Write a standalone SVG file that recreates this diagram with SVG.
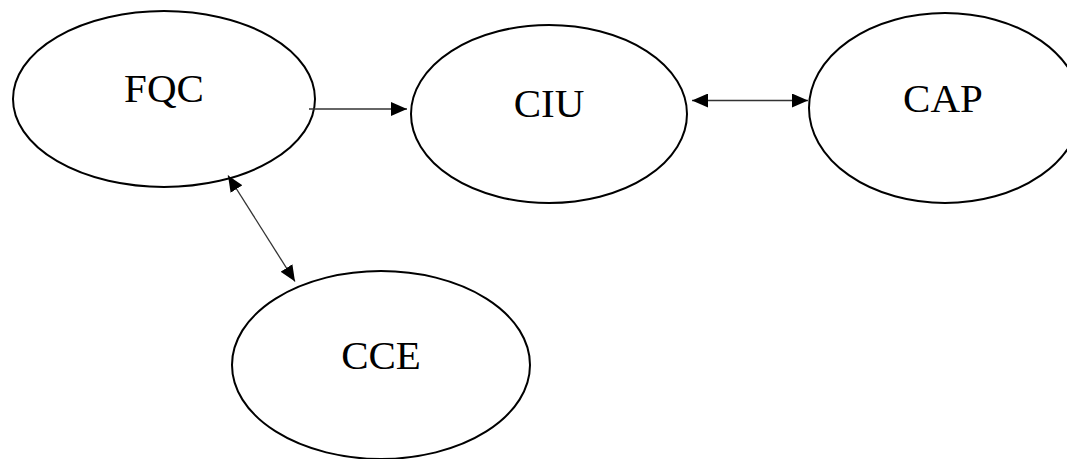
<svg xmlns="http://www.w3.org/2000/svg" width="1067" height="459" viewBox="0 0 1067 459">
  <style>
    .node ellipse { fill: #ffffff; stroke: #000000; stroke-width: 2; }
    .node text { font-family: "Liberation Serif", "Times New Roman", serif; font-size: 41px; fill: #000000; text-anchor: middle; }
    .edge { stroke: #333333; stroke-width: 1.3; fill: none; }
  </style>
  <defs>
    <marker id="head" markerUnits="userSpaceOnUse" markerWidth="16" markerHeight="14" refX="16" refY="7" orient="auto-start-reverse">
      <path d="M0,0 L16,7 L0,14 Z" fill="#000000"/>
    </marker>
  </defs>
  <rect width="1067" height="459" fill="#ffffff"/>

  <g id="node-fqc" class="node">
    <ellipse cx="164" cy="99" rx="151" ry="88"/>
    <text x="164" y="102">FQC</text>
  </g>
  <g id="node-ciu" class="node">
    <ellipse cx="549" cy="114" rx="138" ry="89"/>
    <text x="549" y="117">CIU</text>
  </g>
  <g id="node-cap" class="node">
    <ellipse cx="945" cy="108" rx="136" ry="95"/>
    <text x="943" y="112">CAP</text>
  </g>
  <g id="node-cce" class="node">
    <ellipse cx="381" cy="365" rx="149" ry="94"/>
    <text x="381" y="369">CCE</text>
  </g>

  <g id="connectors">
    <line class="edge" x1="309" y1="109" x2="407" y2="109" marker-end="url(#head)"/>
    <line class="edge" x1="692" y1="100.5" x2="808" y2="100.5" marker-start="url(#head)" marker-end="url(#head)"/>
    <line class="edge" x1="228" y1="175.5" x2="295" y2="281.5" marker-start="url(#head)" marker-end="url(#head)"/>
  </g>
</svg>
